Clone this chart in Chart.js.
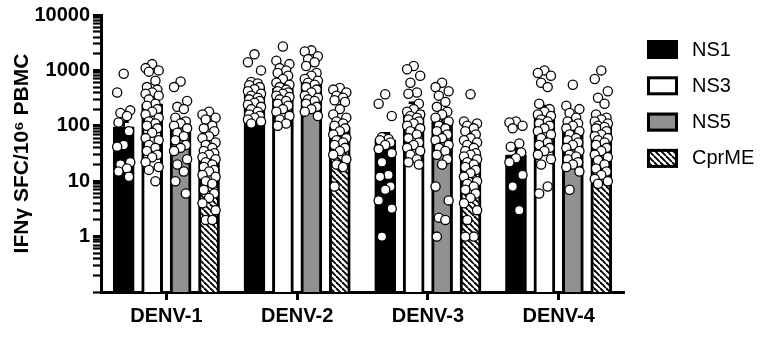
<!DOCTYPE html>
<html>
<head>
<meta charset="utf-8">
<script src="https://cdn.jsdelivr.net/npm/chart.js@4.4.0/dist/chart.umd.min.js"></script>
<style>
  html, body { margin: 0; padding: 0; background: #fff; }
</style>
</head>
<body>
<canvas id="elispotChart" width="764" height="337"></canvas>
<script>
const groups = ['DENV-1', 'DENV-2', 'DENV-3', 'DENV-4'];
const antigens = ['NS1', 'NS3', 'NS5', 'CprME'];
const yTickLabels = [1, 10, 100, 1000, 10000];

// bar height (mean) and error bar (SEM), one per serotype
const ns1Mean = [96, 500, 55, 30];
const ns3Mean = [250, 480, 190, 183];
const ns5Mean = [103, 700, 118, 84];
const cprmeMean = [27, 95, 31, 105];
const ns1Sem = [22, 80, 18, 8];
const ns3Sem = [50, 110, 70, 45];
const ns5Sem = [30, 150, 30, 20];
const cprmeSem = [6, 20, 9, 30];

// individual donors, one list per serotype
const ns1Points = [
    [870, 400, 190, 170, 150, 115, 80, 45, 42, 22, 20, 17, 15, 12],
    [1950, 1400, 1000, 620, 580, 540, 500, 460, 420, 380, 350, 320, 300, 280, 260, 240, 220, 200, 180, 160, 150, 140, 130, 120, 110],
    [370, 250, 150, 62, 58, 55, 50, 45, 38, 32, 22, 13, 12, 8, 7, 4.5, 3.2, 1],
    [120, 115, 100, 90, 48, 42, 33, 26, 22, 13, 8, 3]
];
const ns3Points = [
    [1300, 1100, 1000, 950, 650, 500, 450, 400, 380, 350, 300, 250, 230, 200, 180, 160, 140, 120, 110, 100, 90, 75, 60, 55, 45, 40, 35, 30, 27, 22, 18, 16, 10],
    [2700, 1500, 1300, 1100, 1000, 900, 800, 700, 600, 550, 500, 450, 420, 400, 380, 350, 330, 300, 280, 250, 230, 200, 180, 150, 130, 110, 100],
    [1200, 1050, 800, 600, 400, 380, 250, 200, 180, 160, 150, 140, 130, 120, 110, 100, 90, 80, 70, 60, 50, 45, 40, 35, 30, 25, 22, 20],
    [1000, 900, 800, 600, 500, 250, 200, 180, 160, 150, 130, 120, 110, 100, 90, 80, 70, 60, 50, 45, 40, 35, 30, 25, 20, 8, 6]
];
const ns5Points = [
    [630, 500, 280, 220, 200, 140, 120, 110, 100, 90, 75, 65, 55, 45, 40, 35, 25, 20, 15, 10, 6],
    [2300, 2200, 1800, 1600, 1400, 1200, 900, 800, 700, 650, 600, 550, 500, 450, 400, 350, 320, 300, 280, 250, 220, 200, 180, 150],
    [600, 500, 420, 350, 270, 220, 180, 160, 140, 120, 100, 90, 80, 70, 60, 55, 45, 40, 35, 30, 25, 20, 8, 4.5, 2.2, 2, 1],
    [550, 230, 200, 170, 140, 120, 110, 100, 90, 80, 70, 60, 55, 50, 45, 40, 35, 30, 28, 25, 22, 20, 18, 15, 7]
];
const cprmePoints = [
    [180, 160, 140, 130, 100, 90, 80, 65, 60, 50, 45, 40, 35, 32, 30, 27, 25, 22, 20, 18, 16, 15, 13, 12, 10, 9, 7, 6, 5, 4, 3, 2, 2],
    [480, 450, 400, 350, 320, 290, 270, 200, 160, 140, 120, 110, 100, 90, 80, 70, 60, 55, 50, 45, 40, 35, 30, 25, 20, 18, 8],
    [370, 120, 110, 100, 90, 80, 70, 60, 55, 50, 45, 40, 35, 32, 30, 28, 25, 22, 20, 18, 16, 14, 12, 10, 9, 8, 7, 6, 5, 4, 3, 2, 1, 1],
    [1000, 700, 420, 320, 250, 160, 140, 130, 120, 110, 100, 95, 90, 80, 70, 65, 60, 55, 50, 45, 40, 35, 30, 27, 24, 20, 17, 15, 13, 11, 10, 9]
];

const FONT = "'Liberation Sans', Arial, Helvetica, sans-serif";
const SLOT = 0.2175;   // distance between neighbouring bars, in category units

const ctx = document.getElementById('elispotChart').getContext('2d');

function makeHatch() {
    const c = document.createElement('canvas');
    c.width = 6;
    c.height = 6;
    const g = c.getContext('2d');
    g.fillStyle = '#fff';
    g.fillRect(0, 0, 6, 6);
    g.strokeStyle = '#000';
    g.lineWidth = 1.9;
    for (let k = -1; k <= 1; k++) {
        g.beginPath();
        g.moveTo(k * 6, 0);
        g.lineTo(k * 6 + 6, 6);
        g.stroke();
    }
    return ctx.createPattern(c, 'repeat');
}

const fills = ['#000000', '#ffffff', '#919191', makeHatch()];
const means = [ns1Mean, ns3Mean, ns5Mean, cprmeMean];
const sems = [ns1Sem, ns3Sem, ns5Sem, cprmeSem];
const points = [ns1Points, ns3Points, ns5Points, cprmePoints];

function slotX(g, s) {
    return g + (s - 1.5) * SLOT;
}

// spread the dots sideways inside a bar, like a scatter-dot plot
const spread = [0, -1, 1, -0.5, 0.5, -0.8, 0.8];
function dotsFor(s) {
    const out = [];
    points[s].forEach((list, g) => {
        list.forEach((v, i) => {
            out.push({ x: slotX(g, s) + spread[i % spread.length] * 0.05, y: v });
        });
    });
    return out;
}

const barSets = antigens.map((name, s) => ({
    type: 'bar',
    label: name,
    data: means[s].map((v, g) => ({ x: slotX(g, s), y: v })),
    sem: sems[s],
    xAxisID: 'x2',
    yAxisID: 'y',
    grouped: false,
    barThickness: 21,
    backgroundColor: fills[s],
    borderColor: '#000',
    borderWidth: 3,
    borderSkipped: 'start',
    order: 1
}));

const dotSets = antigens.map((name, s) => ({
    type: 'scatter',
    label: name + ' donors',
    data: dotsFor(s),
    xAxisID: 'x2',
    yAxisID: 'y',
    pointRadius: 4.6,
    pointBackgroundColor: '#fff',
    pointBorderColor: '#000',
    pointBorderWidth: 1.3,
    order: 0
}));

const errorBars = {
    id: 'errorBars',
    afterDatasetDraw(chart, args) {
        const ds = chart.data.datasets[args.index];
        if (!ds.sem) return;
        const y = chart.scales.y;
        const c = chart.ctx;
        c.save();
        c.strokeStyle = '#000';
        c.lineWidth = 2.5;
        args.meta.data.forEach((bar, i) => {
            const top = y.getPixelForValue(ds.data[i].y + ds.sem[i]);
            c.beginPath();
            c.moveTo(bar.x, bar.y);
            c.lineTo(bar.x, top);
            c.moveTo(bar.x - 5, top);
            c.lineTo(bar.x + 5, top);
            c.stroke();
        });
        c.restore();
    }
};

const sideLegend = {
    id: 'sideLegend',
    afterDraw(chart) {
        const c = chart.ctx;
        c.save();
        barSets.forEach((ds, i) => {
            const top = 40 + i * 36.3;
            c.fillStyle = ds.backgroundColor;
            c.fillRect(647, top, 31, 19);
            c.lineWidth = 3;
            c.strokeStyle = '#000';
            c.strokeRect(648.5, top + 1.5, 28, 16);
            c.fillStyle = '#000';
            c.font = '20px ' + FONT;
            c.textBaseline = 'middle';
            c.textAlign = 'left';
            c.fillText(ds.label, 692, top + 10);
        });
        c.restore();
    }
};

new Chart(ctx, {
    type: 'bar',
    data: {
        labels: groups,
        datasets: barSets.concat(dotSets)
    },
    options: {
        responsive: false,
        animation: false,
        layout: {
            padding: { top: 8, right: 140, left: 0, bottom: 0 }
        },
        plugins: {
            legend: { display: false },
            tooltip: { enabled: false }
        },
        scales: {
            x: {
                type: 'category',
                offset: true,
                afterFit: function(scale) { scale.height = 45; },
                border: { color: '#000', width: 3 },
                grid: {
                    offset: false,
                    drawOnChartArea: false,
                    tickLength: 8,
                    tickWidth: 3,
                    tickColor: '#000'
                },
                ticks: {
                    color: '#000',
                    padding: 4,
                    font: { family: FONT, size: 20, weight: 'bold' }
                }
            },
            x2: {
                type: 'linear',
                min: -0.5,
                max: 3.5,
                offset: false,
                display: false
            },
            y: {
                type: 'logarithmic',
                min: 0.1,
                max: 10000,
                afterFit: function(scale) { scale.width = 101; },
                afterBuildTicks: function(scale) {
                    const t = [];
                    for (let e = -1; e <= 3; e++) {
                        for (let m = 1; m <= 9; m++) t.push({ value: m * Math.pow(10, e) });
                    }
                    t.push({ value: 10000 });
                    scale.ticks = t;
                },
                border: { color: '#000', width: 3 },
                grid: {
                    drawOnChartArea: false,
                    tickLength: 8,
                    tickColor: '#000',
                    tickWidth: function(c) {
                        return c.tick && yTickLabels.includes(c.tick.value) ? 3 : 2.2;
                    }
                },
                ticks: {
                    autoSkip: false,
                    color: '#000',
                    padding: 3,
                    font: { family: FONT, size: 20, weight: 'bold' },
                    callback: function(value) {
                        return yTickLabels.includes(value) ? String(value) : '';
                    }
                },
                title: {
                    display: true,
                    text: 'IFNγ SFC/10⁶ PBMC',
                    color: '#000',
                    padding: { top: 10, bottom: 0 },
                    font: { family: FONT, size: 21, weight: 'bold' }
                }
            }
        }
    },
    plugins: [errorBars, sideLegend]
});
</script>
</body>
</html>
